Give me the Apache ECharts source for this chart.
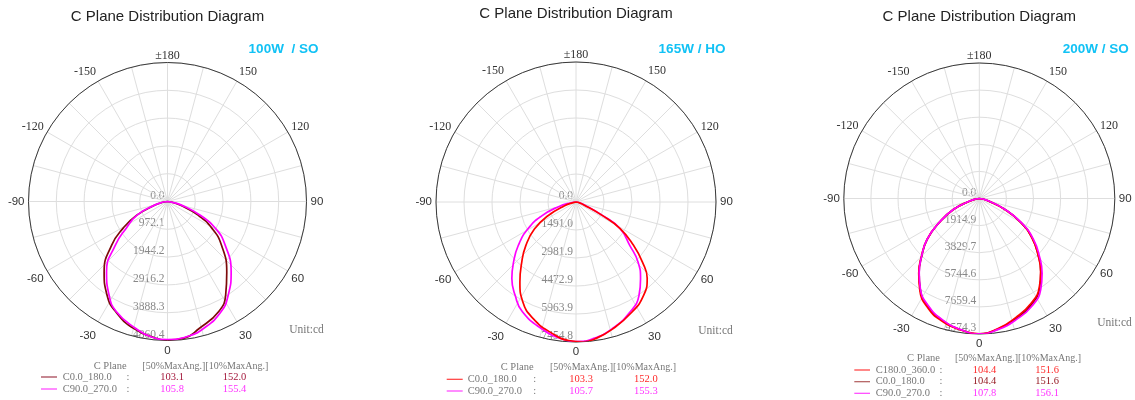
<!DOCTYPE html>
<html>
<head>
<meta charset="utf-8">
<script src="https://cdn.jsdelivr.net/npm/echarts@6/dist/echarts.min.js"></script>
<style>
html,body{margin:0;padding:0;background:#fff;}
#chart{width:1135px;height:400px;}
</style>
</head>
<body>
<div id="chart"></div>
<script>
// ---------- data ----------
const titles = ['C Plane Distribution Diagram','C Plane Distribution Diagram','C Plane Distribution Diagram'];
const subtitles = ['100W  / SO','165W / HO','200W / SO'];

// radius axis maxima (cd) and ring tick labels
const radiusMax = [4860.4, 7454.82, 9574.28];
const ringLabels1 = ['0.0','972.1','1944.2','2916.2','3888.3','4860.4'];
const ringLabels2 = ['0.0','1491.0','2981.9','4472.9','5963.9','7454.8'];
const ringLabels3 = ['0.0','1914.9','3829.7','5744.6','7659.4','9574.3'];

// Chart 1 (100W / SO)
const c1C0Angles  = [-90,-82,-74,-66,-59,-52,-42,-33,-25,-15,-5,0,7,14,25,32,40,51,59,66,74,82,90];
const c1C0Values  = [0,120,455,1175,1808,2476,3312,3889,4266,4592,4798,4850,4815,4578,4242,3840,3224,2430,1808,1154,455,120,0];
const c1C90Angles = [-90,-82,-74,-66,-57,-50,-41,-32,-25,-14,-7,0,8,16,26,33,42,53,61,67,75,82,90];
const c1C90Values = [0,140,490,1154,1728,2385,3249,3857,4242,4578,4766,4826,4777,4609,4284,3899,3326,2521,1906,1259,525,140,0];

// Chart 2 (165W / HO)
const c2C0Angles  = [-90,-80,-72,-64,-57,-49,-42,-35,-28,-20,-11,-3,3,8,16,27,36,43,48,53,59,63,70,80,90];
const c2C0Values  = [0,100,640,1640,2641,3541,4319,5208,6028,6624,7072,7386,7455,7354,7040,6576,6134,5559,4745,3834,2742,1540,450,100,0];
const c2C90Angles = [-90,-82,-75,-68,-61,-53,-46,-40,-33,-26,-15,-6,0,7,16,26,34,40,46,51,59,63,70,80,90];
const c2C90Values = [0,270,960,1965,2913,3850,4627,5314,5943,6507,6997,7322,7428,7333,7013,6534,6001,5346,4590,3690,2716,1600,530,150,0];

// Chart 3 (200W / SO)
const c3Angles     = [-90,-82,-75,-67,-59,-52,-45,-39,-33,-25,-17,-8,0,8,17,26,34,40,46,53,60,67,75,82,90];
const c3C180Values = [0,240,680,1990,3310,4680,5780,6800,7720,8560,9050,9380,9560,9300,8800,8280,7580,6740,5780,4680,3380,1930,640,230,0];
const c3C0Values   = [0,240,680,1990,3300,4660,5750,6760,7660,8470,8990,9370,9560,9330,8880,8366,7624,6769,5800,4700,3400,1950,650,230,0];
const c3C90Values  = [0,250,700,1993,3307,4678,5759,6748,7638,8423,8953,9355,9560,9355,8946,8465,7758,6903,5914,4791,3455,1978,700,250,0];

// summary tables
const t1Names = ['C0.0_180.0','C90.0_270.0'];
const t1V50 = ['103.1','105.8'];
const t1V10 = ['152.0','155.4'];
const t2Names = ['C0.0_180.0','C90.0_270.0'];
const t2V50 = ['103.3','105.7'];
const t2V10 = ['152.0','155.3'];
const t3Names = ['C180.0_360.0','C0.0_180.0','C90.0_270.0'];
const t3V50 = ['104.4','104.4','107.8'];
const t3V10 = ['151.6','151.6','156.1'];

// ---------- layout / style ----------
const DARK = '#7d0a0a', MAG = '#ff00ff', RED = '#ff0000';
const polars = [
  {center:[167.5,201.5], radius:139},
  {center:[576,202], radius:140},
  {center:[979.3,198.5], radius:135.5}
];
const ringLabels = [ringLabels1, ringLabels2, ringLabels3];

function pairs(angles, values){
  return angles.map((a,i)=>[values[i], a < 0 ? a + 360 : a]);
}

const angleAxis = polars.map((p,i)=>({
  polarIndex:i, type:'value', min:0, max:360, interval:15,
  startAngle:-90, clockwise:false, z:2,
  axisLine:{show:true, lineStyle:{color:'#3a3a3a', width:1}},
  axisTick:{show:false},
  splitLine:{show:true, lineStyle:{color:'#dedede', width:1}},
  axisLabel:{
    margin:4,
    formatter:function(v){
      if (v % 30 !== 0 || v === 360) return '';
      if (v === 180) return '{t|±180}';
      const d = v > 180 ? v - 360 : v;
      const ad = Math.abs(d);
      if (ad === 150) return '{s|' + d + '}';
      if (ad === 120) return '{t|' + d + '}';
      if (ad === 30) return '{b|' + d + '}';
      return '{a|' + d + '}';
    },
    rich:{
      s:{fontFamily:'Liberation Serif', fontSize:12, color:'#333'},
      t:{fontFamily:'Liberation Serif', fontSize:12, color:'#333', lineHeight:6},
      a:{fontFamily:'Liberation Sans', fontSize:11.5, color:'#333'},
      b:{fontFamily:'Liberation Sans', fontSize:11.5, color:'#333', lineHeight:20}
    }
  }
}));

const radiusAxis = polars.map((p,i)=>({
  polarIndex:i, type:'value', min:0, max:radiusMax[i], interval:radiusMax[i]/5, z:1,
  axisLine:{show:false}, axisTick:{show:false},
  splitLine:{show:true, lineStyle:{color:'#dedede', width:1}},
  axisLabel:{
    showMinLabel:true, showMaxLabel:true, hideOverlap:false,
    formatter:function(v){ return ringLabels[i][Math.round(v/(radiusMax[i]/5))] || ''; },
    fontFamily:'Liberation Serif', fontSize:11.5, color:'#888',
    align:'right', verticalAlign:'bottom', margin:-3
  }
}));

function line(polarIndex, angles, values, color, width){
  return {
    type:'line', coordinateSystem:'polar', polarIndex:polarIndex,
    data:pairs(angles, values), showSymbol:false, smooth:true,
    lineStyle:{color:color, width:width||1.7}, itemStyle:{color:color},
    animation:false, z:3
  };
}

const series = [
  line(0, c1C0Angles, c1C0Values, DARK),
  line(0, c1C90Angles, c1C90Values, MAG),
  line(1, c2C90Angles, c2C90Values, MAG),
  line(1, c2C0Angles, c2C0Values, RED),
  line(2, c3Angles, c3C0Values, DARK),
  line(2, c3Angles, c3C180Values, RED),
  line(2, c3Angles, c3C90Values, MAG)
];

// ---------- text (titles, units, tables) ----------
const g = [];
function txt(x, y, s, opt){
  g.push({type:'text', x:x, y:y, silent:true, z:20,
    style:Object.assign({text:s, fill:'#333', font:'11px "Liberation Serif"', textAlign:'left', textVerticalAlign:'middle'}, opt||{})});
}
const titleY = [16.5, 13.5, 16.5];
const subPos = [[283.5,49.5],[692,49],[1095.7,49]];
const unitPos = [[289.3,329.5],[698.3,331],[1097.3,323]];
polars.forEach((p,i)=>{
  txt(p.center[0], titleY[i], titles[i], {font:'15px "Liberation Sans"', fill:'#222', textAlign:'center'});
  txt(subPos[i][0], subPos[i][1], subtitles[i], {font:'bold 13.5px "Liberation Sans"', fill:'#12c2f5', textAlign:'center'});
  txt(unitPos[i][0], unitPos[i][1], 'Unit:cd', {font:'11.5px "Liberation Serif"', fill:'#777'});
});

function table(cfg){
  txt(cfg.hx, cfg.hy, 'C Plane', {font:'10.5px "Liberation Serif"', fill:'#777'});
  txt(cfg.bx, cfg.hy, '[50%MaxAng.][10%MaxAng.]', {font:'10px "Liberation Serif"', fill:'#777'});
  cfg.names.forEach((n,k)=>{
    const y = cfg.rows[k];
    g.push({type:'line', silent:true, z:20, shape:{x1:cfg.lx[0], y1:y, x2:cfg.lx[1], y2:y}, style:{stroke:cfg.lineColors[k], lineWidth:1.2}});
    txt(cfg.nx, y, n, {font:'10.5px "Liberation Serif"', fill:'#777'});
    txt(cfg.cx, y, ':', {font:'10.5px "Liberation Serif"', fill:'#777'});
    txt(cfg.v1x, y, cfg.v50[k], {font:'10.5px "Liberation Serif"', fill:cfg.textColors[k]});
    txt(cfg.v2x, y, cfg.v10[k], {font:'10.5px "Liberation Serif"', fill:cfg.textColors[k]});
  });
}
table({hx:93.7, bx:142.3, hy:366, rows:[377,389], lx:[41,57], nx:62.7, cx:126.5, v1x:160.3, v2x:222.7,
  names:t1Names, v50:t1V50, v10:t1V10, lineColors:['#a03a4a','#ff40ff'], textColors:['#a3183c','#ff33ff']});
table({hx:500.7, bx:550, hy:367.7, rows:[379.3,391], lx:[446.7,462.7], nx:467.7, cx:533.3, v1x:569.3, v2x:634,
  names:t2Names, v50:t2V50, v10:t2V10, lineColors:['#ff3a3a','#ff40ff'], textColors:['#ff2a2a','#ff33ff']});
table({hx:907, bx:955, hy:358.3, rows:[370,381.7,393.3], lx:[854.3,870], nx:875.7, cx:939.5, v1x:972.7, v2x:1035.3,
  names:t3Names, v50:t3V50, v10:t3V10, lineColors:['#ff3a3a','#b05a5a','#ff40ff'], textColors:['#ff2a2a','#951a22','#ff33ff']});

const chart = echarts.init(document.getElementById('chart'), null, {renderer:'canvas', width:1135, height:400});
chart.setOption({
  backgroundColor:'#ffffff',
  animation:false,
  polar:polars,
  angleAxis:angleAxis,
  radiusAxis:radiusAxis,
  series:series,
  graphic:{elements:g}
});
</script>
</body>
</html>
